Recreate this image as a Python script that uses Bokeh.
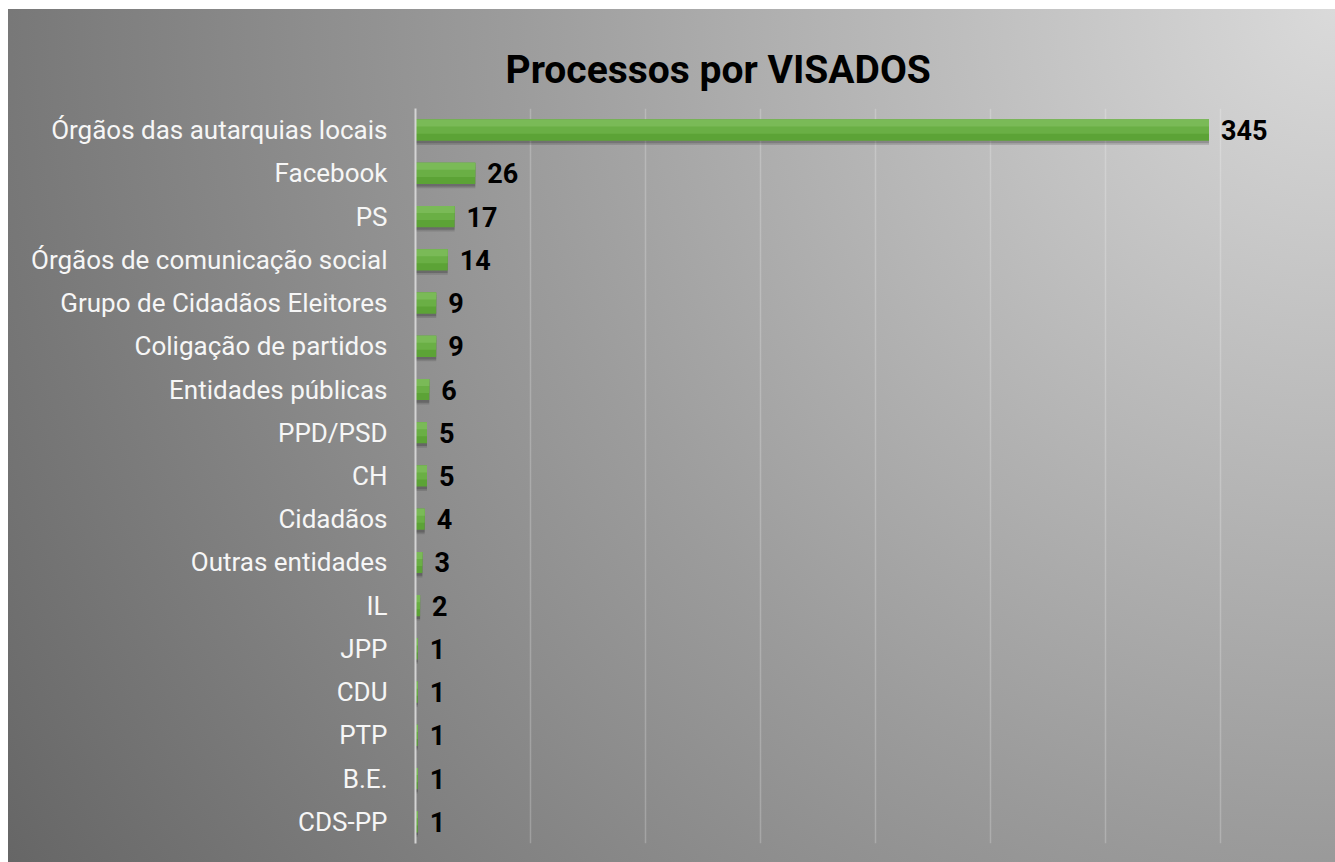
from bokeh.plotting import figure
from bokeh.models import ColumnDataSource, FactorRange, Range1d, SingleIntervalTicker
from bokeh.transform import dodge
from bokeh.core.properties import value
from bokeh.embed import file_html
from bokeh.resources import INLINE

# ---- data (top to bottom as in the reference) ----
categories = [
    "Órgãos das autarquias locais", "Facebook", "PS", "Órgãos de comunicação social",
    "Grupo de Cidadãos Eleitores", "Coligação de partidos", "Entidades públicas",
    "PPD/PSD", "CH", "Cidadãos", "Outras entidades", "IL", "JPP", "CDU", "PTP",
    "B.E.", "CDS-PP",
]
counts = [345, 26, 17, 14, 9, 9, 6, 5, 5, 4, 3, 2, 1, 1, 1, 1, 1]
title_text = "Processos por VISADOS"

src = ColumnDataSource(dict(cat=categories, val=counts, lbl=[str(v) for v in counts]))

p = figure(
    width=1335, height=862,
    y_range=FactorRange(factors=list(reversed(categories))),
    x_range=Range1d(0, 400),
    output_backend="svg", toolbar_location=None,
    min_border_left=415, min_border_right=0, min_border_top=108, min_border_bottom=19,
)
p.styles = {
    "background-color": "white",
    "background-image": "radial-gradient(circle farthest-corner at top right, #dadada 0%, #9c9c9c 52%, #666666 100%)",
    "background-size": "1327px 853px",
    "background-position": "8px 9px",
    "background-repeat": "no-repeat",
}
p.background_fill_alpha = 0
p.border_fill_alpha = 0
p.outline_line_color = None

# title
p.title.text = title_text
p.title.text_font = "Roboto"
p.title.text_font_size = "39px"
p.title.text_font_style = "bold"
p.title.text_color = "black"
p.title.align = "left"
p.title.offset = 90
p.title.standoff = 31

# shadows
p.hbar(y=dodge("cat", -0.06, range=p.y_range), left=0, right="val", height=0.49,
       source=src, fill_color="black", fill_alpha=0.18, line_color=None)
p.hbar(y=dodge("cat", -0.1, range=p.y_range), left=0, right="val", height=0.49,
       source=src, fill_color="black", fill_alpha=0.12, line_color=None)

# bar with vertical gradient (stacked layers anchored at the top edge)
layer_colors = ["#5ca336", "#6aaf45", "#7aba57"]
full_h = 0.49
top = full_h / 2
for i, c in enumerate(layer_colors):
    hk = full_h * (1 - i / len(layer_colors))
    off = top - hk / 2
    p.hbar(y=dodge("cat", off, range=p.y_range), left=0, right="val", height=hk,
           source=src, fill_color=c, line_color=None)

# value labels
p.text(x="val", y="cat", text="lbl", source=src, x_offset=12,
       text_font=value("Roboto"), text_font_style="bold", text_font_size="27px",
       text_color="black", text_baseline="middle", text_align="left")

# axes
p.xaxis.visible = False
p.xaxis.ticker = SingleIntervalTicker(interval=50)
p.xgrid.ticker = SingleIntervalTicker(interval=50)
p.xgrid.grid_line_color = "#ffffff"
p.xgrid.grid_line_alpha = 0.22
p.xgrid.grid_line_width = 1.5
p.ygrid.grid_line_color = None

yax = p.yaxis[0]
yax.axis_line_color = "#d4d4d4"
yax.axis_line_width = 2
yax.major_tick_line_color = None
yax.minor_tick_line_color = None
yax.major_label_text_font = "Roboto"
yax.major_label_text_font_size = "26px"
yax.major_label_text_color = "#f6f6f6"
yax.major_label_standoff = 22

open("out.html", "w").write(file_html(p, INLINE))
